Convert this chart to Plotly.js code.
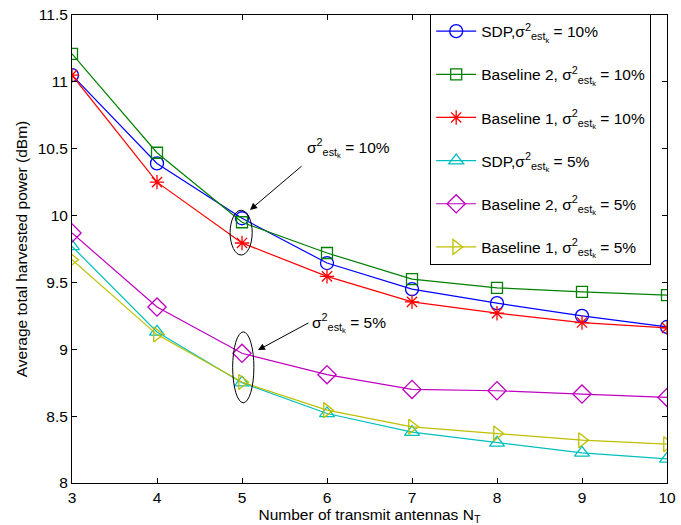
<!DOCTYPE html>
<html>
<head>
<meta charset="utf-8">
<script src="https://cdn.plot.ly/plotly-3.0.1.min.js"></script>
<style>html,body{margin:0;padding:0;background:#fff;}</style>
</head>
<body>
<div id="chart" style="width:681px;height:525px;"></div>
<script>
const antennas = [3, 4, 5, 6, 7, 8, 9, 10];
const sdp10 = [11.05, 10.39, 9.98, 9.645, 9.45, 9.345, 9.25, 9.167];
const base2_10 = [11.21, 10.47, 9.95, 9.72, 9.525, 9.46, 9.43, 9.405];
const base1_10 = [11.05, 10.25, 9.795, 9.545, 9.355, 9.27, 9.20, 9.16];
const sdp5 = [9.77, 9.13, 8.75, 8.52, 8.38, 8.30, 8.225, 8.18];
const base2_5 = [9.87, 9.316, 8.97, 8.81, 8.70, 8.69, 8.665, 8.64];
const base1_5 = [9.67, 9.11, 8.755, 8.545, 8.42, 8.37, 8.32, 8.29];

const sig = 'σ<sup>2</sup><sub>est<sub>k</sub></sub>';
const names = [
  'SDP,' + sig + ' = 10%',
  'Baseline 2, ' + sig + ' = 10%',
  'Baseline 1, ' + sig + ' = 10%',
  'SDP,' + sig + ' = 5%',
  'Baseline 2, ' + sig + ' = 5%',
  'Baseline 1, ' + sig + ' = 5%'
];
const series = [sdp10, base2_10, base1_10, sdp5, base2_5, base1_5];
const colors = ['#0000ff', '#008000', '#ff0000', '#00bfbf', '#bf00bf', '#bfbf00'];
const symbols = ['circle-open', 'square-open', 'asterisk-open', 'triangle-up-open', 'diamond-open', 'triangle-right-open'];
const sizes = [13, 11, 12, 13, 14, 13];

const traces = series.map((ys, i) => ({
  x: antennas, y: ys, name: names[i], type: 'scatter', mode: 'lines+markers',
  legendgroup: 'g' + i,
  line: {color: colors[i], width: 1.2},
  marker: {symbol: symbols[i], size: sizes[i], color: colors[i], line: {color: colors[i], width: 1.3}}
}));

const fam = 'Liberation Sans, Arial, sans-serif';
const font = {family: fam, size: 15.5, color: '#000'};

const layout = {
  width: 681, height: 525,
  margin: {l: 72, r: 14, t: 15, b: 42},
  paper_bgcolor: '#fff', plot_bgcolor: '#fff',
  font: font,
  showlegend: true,
  legend: {
    x: 0.602, y: 1.003, xanchor: 'left', yanchor: 'top',
    bgcolor: '#fff', bordercolor: '#000', borderwidth: 1,
    font: {family: fam, size: 15.5, color: '#000'},
    itemwidth: 40, tracegroupgap: 20
  },
  xaxis: {
    range: [3, 10], tickvals: antennas, ticks: 'inside', ticklen: 5, tickcolor: '#000',
    showline: true, linecolor: '#000', linewidth: 1, mirror: 'ticks', showgrid: false, zeroline: false,
    tickfont: font,
    title: {text: 'Number of transmit antennas N<sub>T</sub>', font: font, standoff: 4}
  },
  yaxis: {
    range: [8, 11.5], dtick: 0.5, ticks: 'inside', ticklen: 5, tickcolor: '#000',
    showline: true, linecolor: '#000', linewidth: 1, mirror: 'ticks', showgrid: false, zeroline: false,
    tickfont: font,
    title: {text: 'Average total harvested power (dBm)', font: font, standoff: 6}
  },
  shapes: [
    {type: 'circle', xref: 'x', yref: 'y', x0: 4.86, x1: 5.12, y0: 9.705, y1: 10.04, line: {color: '#000', width: 1}},
    {type: 'circle', xref: 'x', yref: 'y', x0: 4.89, x1: 5.14, y0: 8.60, y1: 9.13, line: {color: '#000', width: 1}}
  ],
  annotations: [
    {x: 5.094, y: 10.042, xref: 'x', yref: 'y', text: '', showarrow: true, arrowhead: 2, arrowsize: 1.4, arrowwidth: 1, arrowcolor: '#000', ax: 53, ay: -45, standoff: 0},
    {x: 5.188, y: 8.994, xref: 'x', yref: 'y', text: '', showarrow: true, arrowhead: 2, arrowsize: 1.4, arrowwidth: 1, arrowcolor: '#000', ax: 52, ay: -28, standoff: 0},
    {x: 5.74, y: 10.505, xref: 'x', yref: 'y', xanchor: 'left', yanchor: 'middle', text: sig + ' = 10%', showarrow: false, font: font},
    {x: 5.80, y: 9.20, xref: 'x', yref: 'y', xanchor: 'left', yanchor: 'middle', text: sig + ' = 5%', showarrow: false, font: font}
  ]
};

Plotly.newPlot('chart', traces, layout, {displayModeBar: false, staticPlot: true});
</script>
</body>
</html>
